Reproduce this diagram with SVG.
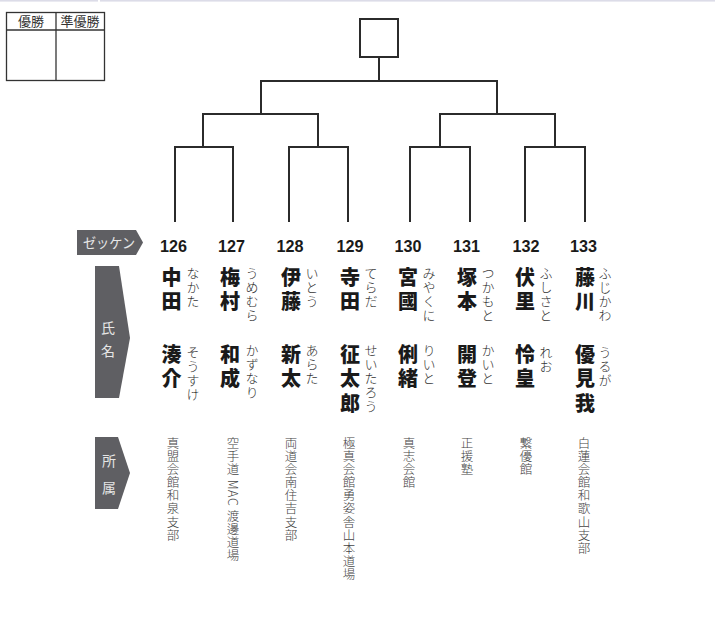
<svg xmlns="http://www.w3.org/2000/svg" width="715" height="620" viewBox="0 0 715 620">
<style>
.ln{fill:none;stroke:#2b2b2b;stroke-width:2;stroke-linecap:square}
.lab{fill:#5f5f63}
.labt{font-family:"Noto Sans CJK JP",sans-serif;fill:#e6e6e6;font-size:14px}
.num{font-family:"Liberation Sans",Arial,sans-serif;font-weight:bold;font-size:17px;fill:#1a1a1a;text-anchor:middle}
.kj{font-family:"Noto Sans CJK JP",sans-serif;font-weight:900;font-size:20px;fill:#1a1a1a;writing-mode:vertical-rl;letter-spacing:4.5px}
.fr{font-family:"Noto Sans CJK JP",sans-serif;font-weight:300;font-size:13px;fill:#333;writing-mode:vertical-rl;letter-spacing:1px}
.af{font-family:"Noto Sans CJK JP",sans-serif;font-weight:300;font-size:12.5px;fill:#444;writing-mode:vertical-rl;letter-spacing:0.6px}
.th{font-family:"Noto Sans CJK JP",sans-serif;font-size:13px;fill:#333;text-anchor:middle}
</style>
<rect x="0" y="0" width="715" height="620" fill="#fff"/>
<rect x="0" y="0" width="98" height="1.6" fill="#dcdce8"/>
<rect x="100" y="0" width="615" height="1.6" fill="#dcdce8"/>

<g id="result-table">
<rect x="6.5" y="12.5" width="98" height="68" fill="none" stroke="#333" stroke-width="1.3"/>
<line x1="6.5" y1="30" x2="104.5" y2="30" stroke="#333" stroke-width="1.3"/>
<line x1="56" y1="12.5" x2="56" y2="80.5" stroke="#333" stroke-width="1.3"/>
<text class="th" x="31" y="26">優勝</text>
<text class="th" x="80" y="26">準優勝</text>
</g>

<g id="winner">
<rect x="360" y="19" width="38" height="38" fill="#fff" stroke="#2b2b2b" stroke-width="2"/>
</g>

<g id="connectors">
<path class="ln" d="M379 57V81M261 114V81H497V114M203 147V114H318V147M440 147V114H555V147M175 221V147H233V221M289 221V147H348V221M410 221V147H470V221M525 221V147H585V221"/>
</g>

<g id="label-zekken">
<polygon class="lab" points="77,230 136,230 143,242.5 136,255 77,255"/>
<text class="labt" x="109" y="248" text-anchor="middle" textLength="52" lengthAdjust="spacingAndGlyphs">ゼッケン</text>
</g>
<g id="label-name">
<polygon class="lab" points="95,266 119,266 130,338 119,398 95,398"/>
<text class="labt" x="108" y="333" text-anchor="middle" font-size="15">氏</text>
<text class="labt" x="108" y="356" text-anchor="middle" font-size="15">名</text>
</g>
<g id="label-affil">
<polygon class="lab" points="95,437 118,437 130,473 118,509 95,509"/>
<text class="labt" x="109" y="466" text-anchor="middle" font-size="15">所</text>
<text class="labt" x="109" y="493" text-anchor="middle" font-size="15">属</text>
</g>

<g id="p126">
<text class="num" x="173.5" y="252" textLength="27" lengthAdjust="spacingAndGlyphs">126</text>
<text class="kj" x="171.5" y="267">中田</text>
<text class="fr" x="193" y="267">なかた</text>
<text class="kj" x="171.5" y="344">湊介</text>
<text class="fr" x="193" y="346">そうすけ</text>
<text class="af" x="173" y="437">真盟会館和泉支部</text>
</g>
<g id="p127">
<text class="num" x="231.5" y="252" textLength="27" lengthAdjust="spacingAndGlyphs">127</text>
<text class="kj" x="230" y="267">梅村</text>
<text class="fr" x="252" y="267">うめむら</text>
<text class="kj" x="230" y="344">和成</text>
<text class="fr" x="252" y="344">かずなり</text>
<text class="af" x="233" y="437">空手道 MAC 渡邊道場</text>
</g>
<g id="p128">
<text class="num" x="290" y="252" textLength="27" lengthAdjust="spacingAndGlyphs">128</text>
<text class="kj" x="291" y="267">伊藤</text>
<text class="fr" x="312" y="267">いとう</text>
<text class="kj" x="291" y="344">新太</text>
<text class="fr" x="312" y="344">あらた</text>
<text class="af" x="291" y="437">両道会南住吉支部</text>
</g>
<g id="p129">
<text class="num" x="350" y="252" textLength="27" lengthAdjust="spacingAndGlyphs">129</text>
<text class="kj" x="350" y="267">寺田</text>
<text class="fr" x="371" y="267">てらだ</text>
<text class="kj" x="350" y="344">征太郎</text>
<text class="fr" x="371" y="344">せいたろう</text>
<text class="af" x="349" y="437">極真会館勇姿舎山本道場</text>
</g>
<g id="p130">
<text class="num" x="408" y="252" textLength="27" lengthAdjust="spacingAndGlyphs">130</text>
<text class="kj" x="408" y="267">宮國</text>
<text class="fr" x="429" y="267">みやくに</text>
<text class="kj" x="408" y="344">俐緒</text>
<text class="fr" x="429" y="344">りいと</text>
<text class="af" x="409" y="437">真志会館</text>
</g>
<g id="p131">
<text class="num" x="466.5" y="252" textLength="27" lengthAdjust="spacingAndGlyphs">131</text>
<text class="kj" x="467" y="267">塚本</text>
<text class="fr" x="488" y="267">つかもと</text>
<text class="kj" x="467" y="344">開登</text>
<text class="fr" x="488" y="344">かいと</text>
<text class="af" x="467" y="437">正援塾</text>
</g>
<g id="p132">
<text class="num" x="526" y="252" textLength="27" lengthAdjust="spacingAndGlyphs">132</text>
<text class="kj" x="525" y="267">伏里</text>
<text class="fr" x="546" y="267">ふしさと</text>
<text class="kj" x="525" y="344">怜皇</text>
<text class="fr" x="546" y="346">れお</text>
<text class="af" x="526" y="437">繋優館</text>
</g>
<g id="p133">
<text class="num" x="583.5" y="252" textLength="27" lengthAdjust="spacingAndGlyphs">133</text>
<text class="kj" x="585" y="267">藤川</text>
<text class="fr" x="605" y="267">ふじかわ</text>
<text class="kj" x="585" y="344">優見我</text>
<text class="fr" x="605" y="346">うるが</text>
<text class="af" x="584" y="437">白蓮会館和歌山支部</text>
</g>
</svg>
